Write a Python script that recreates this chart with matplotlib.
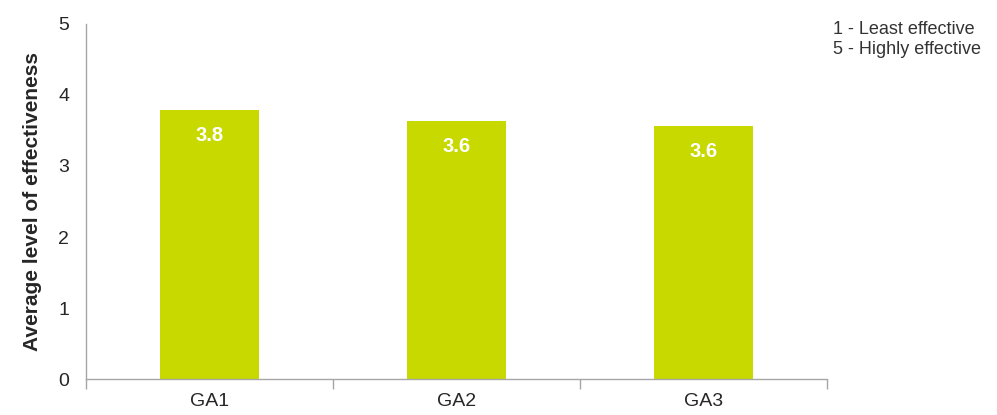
import matplotlib.pyplot as plt
import numpy as np

plt.rcParams['font.family'] = ['Liberation Sans', 'DejaVu Sans']

categories = ["GA1", "GA2", "GA3"]
values = [3.79, 3.64, 3.57]
labels = ["3.8", "3.6", "3.6"]

bar_color = "#c8d900"
axis_color = "#a6a6a6"

fig = plt.figure(figsize=(9.97, 4.15), dpi=100)
ax = fig.add_axes([0.0863, 0.0867, 0.7432, 0.8555])

x = np.arange(len(categories))
bars = ax.bar(x, values, width=0.4, color=bar_color, zorder=2)

for b, lab in zip(bars, labels):
    ax.text(b.get_x() + b.get_width() / 2, b.get_height() - 0.36, lab,
            ha="center", va="center", color="white", fontsize=14.5,
            fontweight="bold")

ax.set_xlim(-0.5, 2.5)
ax.set_ylim(0, 5)
ax.set_yticks(range(6))
ax.set_xticks(x)
ax.set_xticklabels(categories)
ax.set_xticks([-0.5, 0.5, 1.5, 2.5], minor=True)

ax.tick_params(axis="y", length=0, pad=12, labelsize=14, labelcolor="#262626")
ax.tick_params(axis="x", which="major", length=0, pad=10, labelsize=14,
               labelcolor="#262626")
ax.tick_params(axis="x", which="minor", length=7, color=axis_color, width=1)

for s in ["top", "right"]:
    ax.spines[s].set_visible(False)
for s in ["left", "bottom"]:
    ax.spines[s].set_color(axis_color)
    ax.spines[s].set_linewidth(1)

ax.set_ylabel("Average level of effectiveness", fontsize=15,
              fontweight="bold", color="#262626", labelpad=12)

fig.text(0.836, 0.929, "1 - Least effective", fontsize=13, color="#333333",
         va="center")
fig.text(0.836, 0.881, "5 - Highly effective", fontsize=13, color="#333333",
         va="center")

fig.savefig("out.png", dpi=100)
